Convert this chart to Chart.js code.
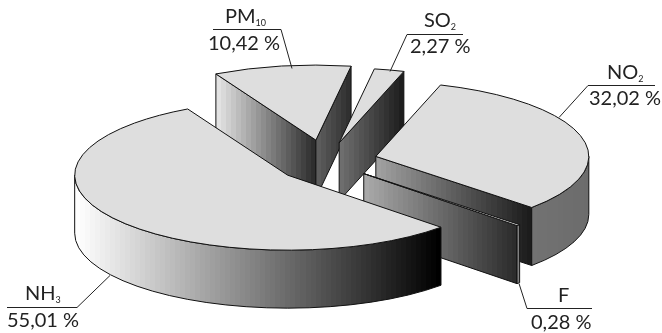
<!DOCTYPE html>
<html>
<head>
<meta charset="utf-8">
<style>
  html, body { margin: 0; padding: 0; background: #fff; }
  canvas { display: block; }
</style>
<script src="https://cdn.jsdelivr.net/npm/chart.js@4/dist/chart.umd.js"></script>
</head>
<body>
<canvas id="chart" width="662" height="333"></canvas>
<script>
// drawn back to front, so the order here is also the paint order
const pollutants = ['PM', 'SO', 'NO', 'F', 'NH'];
const subscripts = ['10', '2', '2', '', '3'];
const shares = [10.42, 2.27, 32.02, 0.28, 55.01];

const squash = 0.352;
const depth = 58;
const explode = [63, 56, 51.5, 52, 48];
const lift = [0, 0, -1, -1, 3];

// grey levels for the visible walls, left -> right
const startWall = [226, 46];
const endWalls = [[92, 48], [110, 30], [160, 28], [168, 44], null];
const rimWalls = [null, null, [114, 108], [144, 128], [255, 0]];

// where each callout sits: text anchor and leader polyline
const callouts = [
  { nameX: 225, nameY: 23, valueX: 208, valueY: 50, line: [[213, 29], [281, 29], [292, 68]] },
  { nameX: 424, nameY: 27, valueX: 410, valueY: 53, line: [[463, 34], [407, 34], [390, 71]] },
  { nameX: 607, nameY: 79, valueX: 589, valueY: 105, line: [[655, 85], [588, 85], [559, 117]] },
  { nameX: 558, nameY: 302, valueX: 531, valueY: 329, line: [[592, 308], [527, 308], [519, 283]] },
  { nameX: 25, nameY: 300, valueX: 7, valueY: 327, line: [[7, 307], [77, 307], [110, 275]] }
];

// the gradients in the picture are slightly banded, so use hard stops
function xGradient(ctx, x0, x1, greys) {
  const g = ctx.createLinearGradient(x0, 0, x1, 0);
  const bands = Math.max(2, Math.round((x1 - x0) / 5));
  for (let b = 0; b < bands; b++) {
    const v = Math.round(greys[0] + (greys[1] - greys[0]) * b / (bands - 1));
    const c = 'rgb(' + v + ',' + v + ',' + v + ')';
    g.addColorStop(b / bands, c);
    g.addColorStop((b + 1) / bands, c);
  }
  return g;
}

function flatWall(ctx, cx, cy, r, angle, greys) {
  const ex = cx + r * Math.cos(angle);
  const ey = cy + r * squash * Math.sin(angle);
  ctx.beginPath();
  ctx.moveTo(cx, cy);
  ctx.lineTo(ex, ey);
  ctx.lineTo(ex, ey + depth);
  ctx.lineTo(cx, cy + depth);
  ctx.closePath();
  ctx.fillStyle = xGradient(ctx, Math.min(cx, ex), Math.max(cx, ex), greys);
  ctx.fill();
  ctx.stroke();
}

function rimWall(ctx, cx, cy, r, start, end, greys) {
  [[0, Math.PI], [2 * Math.PI, 3 * Math.PI]].forEach(function (front) {
    const a = Math.max(start, front[0]);
    const b = Math.min(end, front[1]);
    if (b <= a) return;
    ctx.beginPath();
    ctx.ellipse(cx, cy, r, r * squash, 0, a, b);
    ctx.ellipse(cx, cy + depth, r, r * squash, 0, b, a, true);
    ctx.closePath();
    const x0 = cx + r * Math.cos(b);
    const x1 = cx + r * Math.cos(a);
    ctx.fillStyle = xGradient(ctx, x0, x1, greys);
    ctx.fill();
    ctx.stroke();
  });
}

class Pie3D extends Chart.PieController {
  draw() {
    const ctx = this.chart.ctx;
    this._cachedMeta.data.forEach(function (arc, i) {
      const mid = (arc.startAngle + arc.endAngle) / 2;
      const cx = arc.x + explode[i] * Math.cos(mid);
      const cy = arc.y + explode[i] * squash * Math.sin(mid) + lift[i];
      const r = arc.outerRadius;

      ctx.save();
      ctx.strokeStyle = '#111';
      ctx.lineWidth = 1;
      ctx.lineJoin = 'round';
      if (Math.sin(arc.startAngle - Math.PI / 2) > 0) flatWall(ctx, cx, cy, r, arc.startAngle, startWall);
      if (endWalls[i] && Math.sin(arc.endAngle + Math.PI / 2) > 0) flatWall(ctx, cx, cy, r, arc.endAngle, endWalls[i]);
      if (rimWalls[i]) rimWall(ctx, cx, cy, r, arc.startAngle, arc.endAngle, rimWalls[i]);

      // top face, chart.js fills it, squashed into an ellipse
      ctx.save();
      ctx.translate(cx, cy);
      ctx.scale(1, squash);
      ctx.translate(-arc.x, -arc.y);
      arc.draw(ctx);
      ctx.restore();

      ctx.beginPath();
      ctx.moveTo(cx, cy);
      ctx.ellipse(cx, cy, r, r * squash, 0, arc.startAngle, arc.endAngle);
      ctx.closePath();
      ctx.stroke();
      ctx.restore();
    });
  }
}
Pie3D.id = 'pie3d';
Pie3D.defaults = Chart.PieController.defaults;
Chart.register(Pie3D);

const calloutPlugin = {
  id: 'callouts',
  afterDraw: function (chart) {
    const ctx = chart.ctx;
    ctx.save();
    ctx.textBaseline = 'alphabetic';
    ctx.fillStyle = '#222';
    ctx.strokeStyle = '#222';
    ctx.lineWidth = 1;
    callouts.forEach(function (c, i) {
      ctx.beginPath();
      c.line.forEach(function (p, j) {
        if (j === 0) ctx.moveTo(p[0], p[1] + 0.5);
        else ctx.lineTo(p[0], p[1] + 0.5);
      });
      ctx.stroke();

      ctx.font = '20px Lato';
      ctx.fillText(pollutants[i], c.nameX, c.nameY);
      const w = ctx.measureText(pollutants[i]).width;
      ctx.fillText(shares[i].toFixed(2).replace('.', ',') + ' %', c.valueX, c.valueY);
      ctx.font = '9px Lato';
      ctx.fillText(subscripts[i], c.nameX + w, c.nameY + 3);
    });
    ctx.restore();
  }
};

new Chart(document.getElementById('chart'), {
  type: 'pie3d',
  data: {
    labels: pollutants.map(function (p, i) { return p + subscripts[i]; }),
    datasets: [{
      data: shares,
      backgroundColor: '#dedede',
      borderWidth: 0
    }]
  },
  options: {
    responsive: false,
    animation: false,
    rotation: 332,
    radius: 213,
    layout: { padding: { right: 10, bottom: 9 } },
    plugins: { legend: { display: false }, tooltip: { enabled: false } }
  },
  plugins: [calloutPlugin]
});
</script>
</body>
</html>
